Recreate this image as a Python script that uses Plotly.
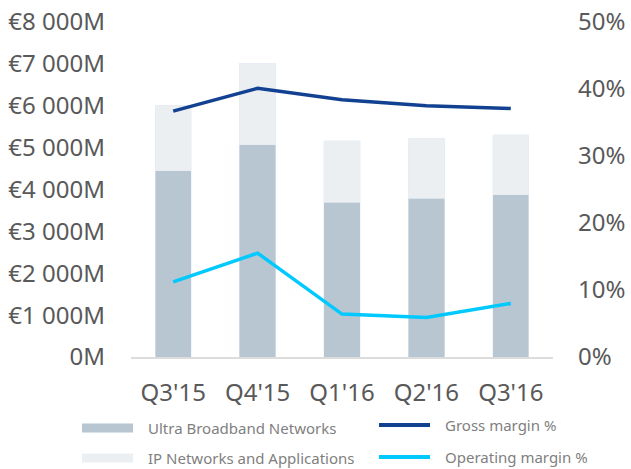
import plotly.graph_objects as go

quarters = ["Q3'15", "Q4'15", "Q1'16", "Q2'16", "Q3'16"]
ultra_broadband = [4450, 5070, 3690, 3790, 3880]
ip_networks = [1560, 1950, 1470, 1430, 1430]
gross_margin = [36.7, 40.1, 38.4, 37.5, 37.1]
operating_margin = [11.2, 15.5, 6.4, 5.9, 8.0]

left_ticks = [0, 1000, 2000, 3000, 4000, 5000, 6000, 7000, 8000]
left_labels = ["0M", "€1 000M", "€2 000M", "€3 000M", "€4 000M",
               "€5 000M", "€6 000M", "€7 000M", "€8 000M"]
right_ticks = [0, 10, 20, 30, 40, 50]
right_labels = ["0%", "10%", "20%", "30%", "40%", "50%"]

C_ULTRA = "#b7c6d0"
C_IP = "#ebeff2"
C_GROSS = "#124191"
C_OPER = "#00c9ff"
TXT = "#595959"

W, H = 631, 469
L, T = 131, 22
PW, PH = 422, 335

fig = go.Figure()
fig.add_trace(go.Bar(x = quarters, y = ultra_broadband, marker_color = C_ULTRA,
                     name = "Ultra Broadband Networks"))
fig.add_trace(go.Bar(x = quarters, y = ip_networks, marker_color = C_IP,
                     name = "IP Networks and Applications"))
fig.add_trace(go.Scatter(x = quarters, y = gross_margin, yaxis = "y2", mode = "lines",
                         line = dict(color = C_GROSS, width = 3.5), name = "Gross margin %"))
fig.add_trace(go.Scatter(x = quarters, y = operating_margin, yaxis = "y2", mode = "lines",
                         line = dict(color = C_OPER, width = 3.5), name = "Operating margin %"))

fig.update_layout(
    width = W, height = H,
    margin = dict(l = L, r = W - L - PW, t = T, b = H - T - PH),
    barmode = "stack", bargap = 0.57,
    showlegend = False,
    paper_bgcolor = "white", plot_bgcolor = "white",
    font = dict(family = "Noto Sans", color = TXT),
    xaxis = dict(showgrid = False, showline = True, linecolor = "#dcdcdc", linewidth = 2,
                 ticks = "", tickfont = dict(size = 24, color = TXT), ticklabelstandoff = 13,
                 automargin = False),
    yaxis = dict(range = [0, 8000], tickvals = left_ticks, ticktext = left_labels,
                 showgrid = False, zeroline = False, tickfont = dict(size = 24, color = TXT),
                 ticklabelstandoff = 25, automargin = False, ticklabeloverflow = "allow"),
    yaxis2 = dict(range = [0, 50], tickvals = right_ticks, ticktext = right_labels,
                  overlaying = "y", side = "right", showgrid = False, zeroline = False,
                  tickfont = dict(size = 24, color = TXT), ticklabelstandoff = 24,
                  automargin = False, ticklabeloverflow = "allow"),
)

# custom legend, two columns (positions in window pixels)
def px_x(p):
    return (p - L) / PW

def px_y(p):
    return (T + PH - p) / PH

legend_items = [
    ("Ultra Broadband Networks", C_ULTRA, "box", 82, 428),
    ("IP Networks and Applications", C_IP, "box", 82, 458),
    ("Gross margin %", C_GROSS, "line", 379, 425),
    ("Operating margin %", C_OPER, "line", 379, 457),
]
for label, color, kind, x0, yc in legend_items:
    if kind == "box":
        fig.add_shape(type = "rect", xref = "paper", yref = "paper",
                      x0 = px_x(x0), x1 = px_x(x0 + 51), y0 = px_y(yc - 4.5), y1 = px_y(yc + 4.5),
                      fillcolor = color, line_width = 0)
    else:
        fig.add_shape(type = "line", xref = "paper", yref = "paper",
                      x0 = px_x(x0), x1 = px_x(x0 + 51), y0 = px_y(yc), y1 = px_y(yc),
                      line = dict(color = color, width = 4))
    fig.add_annotation(text = label, xref = "paper", yref = "paper", showarrow = False,
                       x = px_x(x0 + 64), y = px_y(yc), xanchor = "left", yanchor = "middle",
                       font = dict(size = 15, color = "#7f7f7f"))

# drop the default 8px body margin so the figure fills the window exactly
fig.write_html("out.html", config = {"displayModeBar": False},
               post_script = "document.body.style.margin = '0';")
